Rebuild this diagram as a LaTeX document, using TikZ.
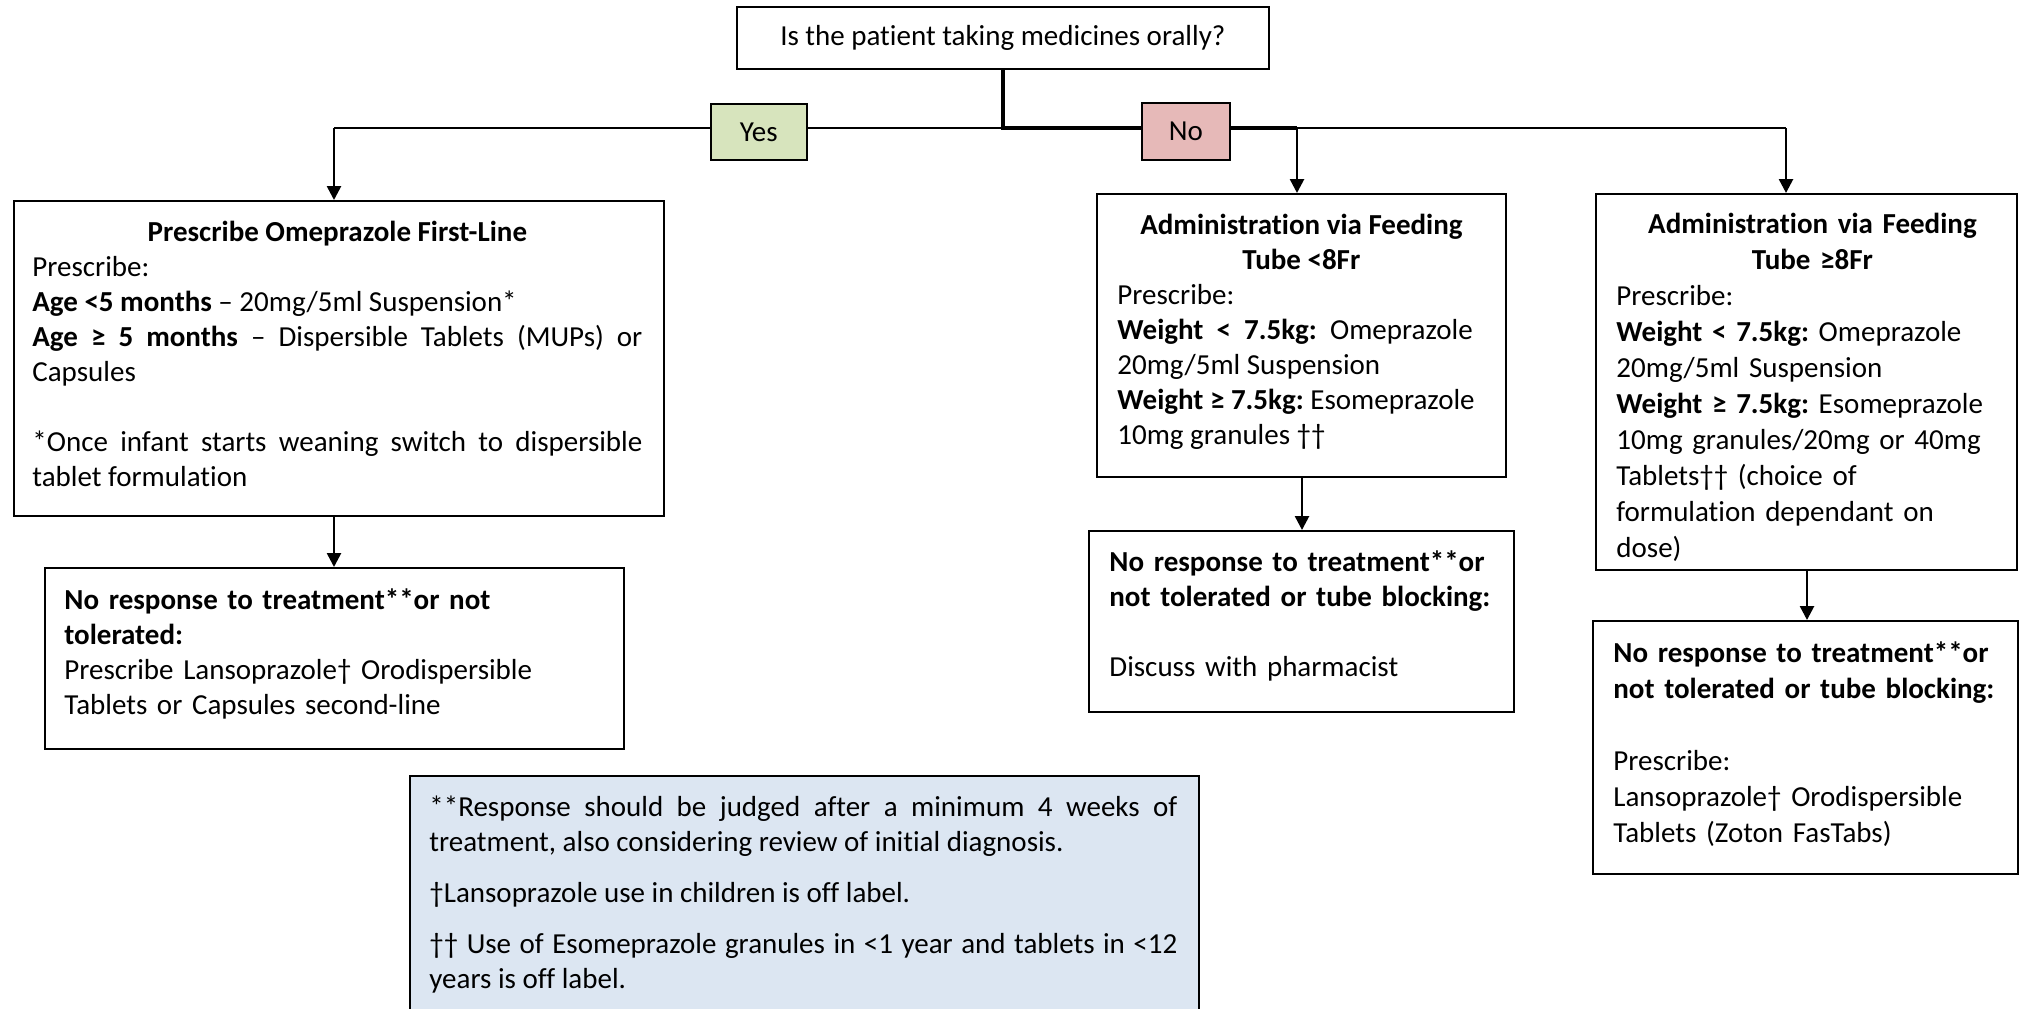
\documentclass[tikz,border=0pt]{standalone}
\usepackage{fontspec}
\setmainfont{Carlito}[Ligatures=NoCommon]
\usetikzlibrary{arrows.meta}
\definecolor{yesfill}{HTML}{D7E4BD}
\definecolor{nofill}{HTML}{E6B9B8}
\definecolor{notefill}{HTML}{DCE6F2}
\hyphenpenalty=10000
\exhyphenpenalty=10000
\frenchspacing
\tikzset{
  box/.style={draw=black, line width=0.8pt, rectangle, inner sep=0pt, anchor=north west},
  txt/.style={anchor=north west, inner sep=0pt, font=\fontsize{14.5}{17.5}\selectfont},
  txtw/.style={anchor=north west, inner sep=0pt, font=\fontsize{14.5}{18}\selectfont},
  conn/.style={line width=1.3pt},
  arr/.style={line width=1.3pt, -{Triangle[length=7pt,width=7pt]}},
  thick conn/.style={line width=2pt},
}
\begin{document}
\begin{tikzpicture}[x=0.5pt,y=-0.5pt]
\useasboundingbox (0,0) rectangle (2022,1008);
% question
\node[box, minimum width=266pt, minimum height=31pt] (Q) at (736,6) {};
\node[txt, anchor=center] (Qt) at (Q.center) {Is the patient taking medicines orally?};
% box A
\node[box, minimum width=325pt, minimum height=157.5pt] (A) at (13,200) {};
\node[txt, text width=305pt, align=justify] (At) at (32,221) {%
\hyphenpenalty=10000
\hfil\textbf{Prescribe Omeprazole First-Line}\hfil\par
Prescribe:\par
\textbf{Age <5 months} -- 20mg/5ml Suspension*\par
\textbf{Age ≥ 5 months} -- Dispersible Tablets (MUPs) or Capsules\par
\vspace{17.5pt}
*Once infant starts weaning switch to dispersible tablet formulation\par};
% box A2
\node[box, minimum width=289.5pt, minimum height=90.5pt] (A2) at (44,567) {};
\node[txt, text width=270pt, align=left] (A2t) at (64,588) {%
\textbf{No response to treatment**or not}\\ \textbf{tolerated:}\\
Prescribe Lansoprazole† Orodispersible\\ Tablets or Capsules second-line};
% box B
\node[box, minimum width=204.5pt, minimum height=141.5pt] (B) at (1096,193) {};
\node[txt, text width=184pt, align=justify] (Bt) at (1117,214) {%
\hfil\textbf{Administration via Feeding}\hfil\par
\hfil\textbf{Tube <8Fr}\hfil\par
Prescribe:\par
\textbf{Weight~~<~~7.5kg:}~~Omeprazole\par
20mg/5ml Suspension\par
\textbf{Weight ≥ 7.5kg:} Esomeprazole\par
10mg granules ††\par};
% box B2
\node[box, minimum width=212.5pt, minimum height=90.5pt] (B2) at (1088,530) {};
\node[txt, text width=200pt, align=left] (B2t) at (1109,550) {%
\textbf{No response to treatment**or}\\
\textbf{not tolerated or tube blocking:}\\[17.5pt]
Discuss with pharmacist};
% box C
\node[box, minimum width=210.5pt, minimum height=188pt] (C) at (1595,193) {};
\node[txtw, text width=196pt, align=left] (Ct) at (1616,213) {%
\hfil\textbf{Administration via Feeding}\hfil\par
\hfil\textbf{Tube ≥8Fr}\hfil\par
Prescribe:\par
\textbf{Weight < 7.5kg:} Omeprazole\par
20mg/5ml Suspension\par
\textbf{Weight ≥ 7.5kg:} Esomeprazole\par
10mg granules/20mg or 40mg\par
Tablets†† (choice of\par
formulation dependant on\par
dose)\par};
% box C2
\node[box, minimum width=212.5pt, minimum height=126.5pt] (C2) at (1592,620) {};
\node[txtw, text width=200pt, align=left] (C2t) at (1613,641) {%
\textbf{No response to treatment**or}\\
\textbf{not tolerated or tube blocking:}\\[18pt]
Prescribe:\\
Lansoprazole† Orodispersible\\
Tablets (Zoton FasTabs)};
% note
\node[box, fill=notefill, minimum width=394.5pt, minimum height=140pt] (N) at (409,775) {};
\node[txt, text width=374pt, align=justify] (Nt) at (429,795) {%
\hyphenpenalty=10000
**Response should be judged after a minimum 4 weeks of treatment, also considering review of initial diagnosis.\par
\vspace{8pt}
†Lansoprazole use in children is off label.\par
\vspace{8pt}
†† Use of Esomeprazole granules in <1 year and tablets in <12 years is off label.\par};
% connectors
\coordinate (jQ) at (Q.south |- 0,128);
\coordinate (jA) at (334,128);
\coordinate (jB) at (1297,128);
\coordinate (jC) at (1786,128);
\draw[thick conn] (Q.south) -- (jQ) -- (jB);
\draw[conn] (jQ) -- (jA);
\draw[conn] (jB) -- (jC);
\draw[arr] (jA) -- (jA |- A.north);
\draw[arr] (jB) -- (jB |- B.north);
\draw[arr] (jC) -- (jC |- C.north);
\coordinate (sA) at (334,515);
\coordinate (sB) at (1302,476);
\coordinate (sC) at (1807,569);
\draw[arr] (sA |- A.south) -- (sA |- A2.north);
\draw[arr] (sB |- B.south) -- (sB |- B2.north);
\draw[arr] (sC |- C.south) -- (sC |- C2.north);
% yes / no
\node[box, fill=yesfill, minimum width=48pt, minimum height=28pt] (Y) at (710,103) {};
\node[txt, anchor=center] (Yt) at (Y.center) {Yes};
\node[box, fill=nofill, minimum width=44pt, minimum height=28.5pt] (No) at (1141,102) {};
\node[txt, anchor=center] (Nolbl) at (No.center) {No};
\end{tikzpicture}
\end{document}
